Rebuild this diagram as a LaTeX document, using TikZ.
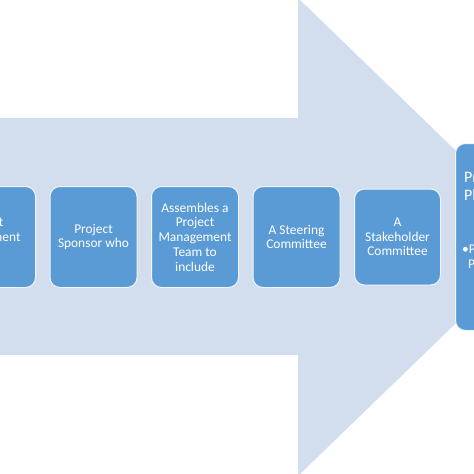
\documentclass[tikz,border=0pt]{standalone}
\usepackage{fontspec}
\setmainfont{Carlito}
\usepackage{tikz}
\usetikzlibrary{positioning,shapes.geometric}
\definecolor{stageblue}{RGB}{91,155,213}
\definecolor{arrowblue}{RGB}{210,221,238}

\begin{document}
\begin{tikzpicture}[
    x=1pt, y=-1pt,
    node distance=13.5pt,
    font=\fontsize{13.4}{14.7}\selectfont,
    stage/.style={
		rectangle,
		rounded corners=10pt,
		draw=white!90!stageblue,
		line width=1pt,
		fill=stageblue,
		text=white,
		align=center,
		inner sep=0pt,
		minimum width=87pt,
		minimum height=101pt
	},
	phase/.style={
		stage,
		minimum height=187pt
	},
	phasetext/.style={
		text=white,
		align=left,
		inner sep=0pt,
		anchor=north west
	}
  ]
  \useasboundingbox (0,0) rectangle (474,474);
  \clip (0,0) rectangle (474,474);

  % the big arrow behind the stages
  \fill [arrowblue] (-10,118) -- (298,118) -- (298,-2) -- (545,237)
    -- (298,476) -- (298,355) -- (-10,355) -- cycle;

  % then the stages from left to right
  \node [stage, minimum width=103pt] (board) at (-16,237) {Project\\Management\\Board};
  \node [stage, right=of board] (sponsor) {Project\\Sponsor who};
  \node [stage, right=of sponsor] (team) {Assembles a\\Project\\Management\\Team to\\include};
  \node [stage, right=of team] (steering) {A Steering\\Committee};
  \node [stage, right=of steering, minimum height=96pt, minimum width=86pt] (stakeholder) {A\\Stakeholder\\Committee};

  \node [phase, right=14pt of stakeholder] (plan) {};
  \node [phasetext, font=\fontsize{16}{18}\selectfont]
    (plantitle) at ([xshift=9pt, yshift=-28pt]plan.north west) {Project\\Plan};
  \node [phasetext]
    (planlist) at ([xshift=7pt, yshift=-101pt]plan.north west) {\textbullet Phases\\\hspace{6pt}Plan};

\end{tikzpicture}
\end{document}
